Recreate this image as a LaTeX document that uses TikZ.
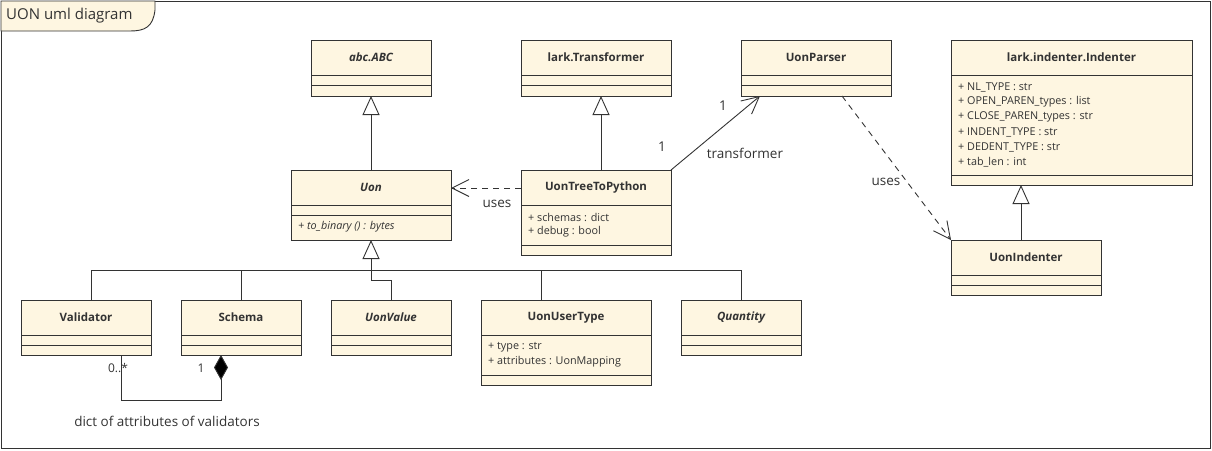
\documentclass[tikz,border=0pt]{standalone}
\usepackage{fontspec}
\setmainfont{Open Sans}
\usetikzlibrary{arrows.meta,calc}
\definecolor{cream}{RGB}{254,246,225}
\definecolor{ink}{RGB}{51,51,51}
\tikzset{
  box/.style={draw=ink, fill=cream, line width=1pt, inner sep=0pt, outer sep=0pt},
  ctitle/.style={font=\fontsize{11.5}{13}\selectfont\bfseries, text=ink, inner sep=0pt},
  ititle/.style={font=\fontsize{11.5}{13}\selectfont\bfseries\itshape, text=ink, inner sep=0pt},
  attr/.style={font=\fontsize{10.8}{12}\selectfont, text=ink, inner sep=0pt, anchor=west},
  lbl/.style={font=\fontsize{13.5}{15}\selectfont, text=ink, inner sep=0pt},
  ln/.style={draw=ink, line width=0.9pt},
  gen/.style={ln, -{Triangle[length=19pt,width=17pt,fill=white,line width=0.9pt]}},
  dep/.style={ln, dash pattern=on 6pt off 5pt, -{Straight Barb[length=17pt,width=17pt,line width=0.9pt]}},
  nav/.style={ln, -{Straight Barb[length=17pt,width=17pt,line width=0.9pt]}},
}
\newcommand\umlbox[7]{% name, x, y, w, h, title, style
  \node[box, minimum width=#4, minimum height=#5, anchor=north west] (#1) at (#2,#3) {};
  \node[#7] (#1-t) at ($(#1.north)+(0,17.5)$) {#6};
}
\newcommand\divline[2]{% name, offset from top
  \draw[ln] ($(#1.north west)+(0,#2)$) -- ($(#1.north east)+(0,#2)$);
}
\begin{document}
\begin{tikzpicture}[x=1pt,y=-1pt]
\useasboundingbox (0,0) rectangle (1212,450);
% frame
\draw[ln] (1,1) rectangle (1210,448);
\draw[ln, fill=cream] (1,1) -- (155,1) -- (155,10) .. controls (153,27) and (145,31) .. (130,31) -- (1,31) -- cycle;
\node[font=\fontsize{15}{17}\selectfont, text=ink, anchor=west, inner sep=0pt] (frametitle) at (6,16) {UON uml diagram};

% classes
\umlbox{abc}{311}{40}{120}{56}{abc.ABC}{ititle}
\divline{abc}{35}\divline{abc}{45}
\umlbox{lt}{521}{40}{150}{56}{lark.Transformer}{ctitle}
\divline{lt}{35}\divline{lt}{45}
\umlbox{up}{741}{40}{150}{56}{UonParser}{ctitle}
\divline{up}{35}\divline{up}{45}
\umlbox{ind}{951}{40}{241}{145}{lark.indenter.Indenter}{ctitle}
\divline{ind}{35}\divline{ind}{135}
\node[attr] (ind-a1) at (958,87) {+ NL\_TYPE : str};
\node[attr] (ind-a2) at (958,102) {+ OPEN\_PAREN\_types : list};
\node[attr] (ind-a3) at (958,117) {+ CLOSE\_PAREN\_types : str};
\node[attr] (ind-a4) at (958,132) {+ INDENT\_TYPE : str};
\node[attr] (ind-a5) at (958,147) {+ DEDENT\_TYPE : str};
\node[attr] (ind-a6) at (958,162) {+ tab\_len : int};

\umlbox{uon}{291}{170}{160}{70}{Uon}{ititle}
\divline{uon}{35}\divline{uon}{45}
\node[attr, font=\fontsize{10.8}{12}\selectfont\itshape] (uon-m1) at (298,227) {+ to\_binary () : bytes};

\umlbox{utp}{521}{170}{150}{85}{UonTreeToPython}{ctitle}
\divline{utp}{35}\divline{utp}{75}
\node[attr] (utp-a1) at (528,217) {+ schemas : dict};
\node[attr] (utp-a2) at (528,232) {+ debug : bool};

\umlbox{uind}{951}{240}{150}{55}{UonIndenter}{ctitle}
\divline{uind}{35}\divline{uind}{45}

\umlbox{val}{21}{300}{130}{55}{Validator}{ctitle}
\divline{val}{35}\divline{val}{45}
\umlbox{sch}{181}{300}{120}{55}{Schema}{ctitle}
\divline{sch}{35}\divline{sch}{45}
\umlbox{uv}{331}{300}{120}{55}{UonValue}{ititle}
\divline{uv}{35}\divline{uv}{45}
\umlbox{uut}{481}{300}{170}{85}{UonUserType}{ctitle}
\divline{uut}{35}\divline{uut}{75}
\node[attr] (uut-a1) at (488,347) {+ type : str};
\node[attr] (uut-a2) at (488,362) {+ attributes : UonMapping};
\umlbox{qty}{681}{300}{120}{55}{Quantity}{ititle}
\divline{qty}{35}\divline{qty}{45}

% generalizations
\coordinate (utptop) at ($(utp.north)+(5,0)$);
\coordinate (uindtop) at ($(uind.north)+(-5,0)$);
\draw[gen] (uon.north) -- (abc.south);
\draw[gen] (utptop) -- (utptop |- lt.south);
\draw[gen] (uindtop) -- (uindtop |- ind.south);
\draw[gen] (uv.north) |- ($(uon.south)+(0,40)$) -- (uon.south);
\coordinate (j) at (371,270);
\coordinate (valtop) at ($(val.north)+(5,0)$);
\coordinate (uuttop) at ($(uut.north)+(-25,0)$);
\draw[ln] (valtop) |- (qty.north |- j) -- (qty.north);
\draw[ln] (sch.north) -- (sch.north |- j);
\draw[ln] (uuttop) -- (uuttop |- j);

% dependencies
\draw[dep] (utp.west |- 0,188) -- (uon.east |- 0,188);
\node[lbl] (uses1) at (497,204) {uses};
\draw[dep] ($(up.south)+(26,0)$) -- (uind.north west);
\node[lbl] (uses2) at (886,182) {uses};

% association
\draw[nav] (utp.north east) -- ($(up.south)+(-56,0)$);
\node[lbl] (m1) at (723,106) {1};
\node[lbl] (m2) at (662,147) {1};
\node[lbl] (trf) at (745,153) {transformer};

% composition
\draw[ln, {Diamond[length=25pt,width=14pt,fill=black]}-] ($(sch.south)+(-20,0)$) |- ($(val.south)+(35,45)$) -- ($(val.south)+(35,0)$);
\node[lbl, font=\fontsize{12}{13}\selectfont] (m3) at (118,368) {0..*};
\node[lbl, font=\fontsize{12}{13}\selectfont] (m4) at (201,368) {1};
\node[lbl] (dict) at (167,421) {dict of attributes of validators};
\end{tikzpicture}
\end{document}
